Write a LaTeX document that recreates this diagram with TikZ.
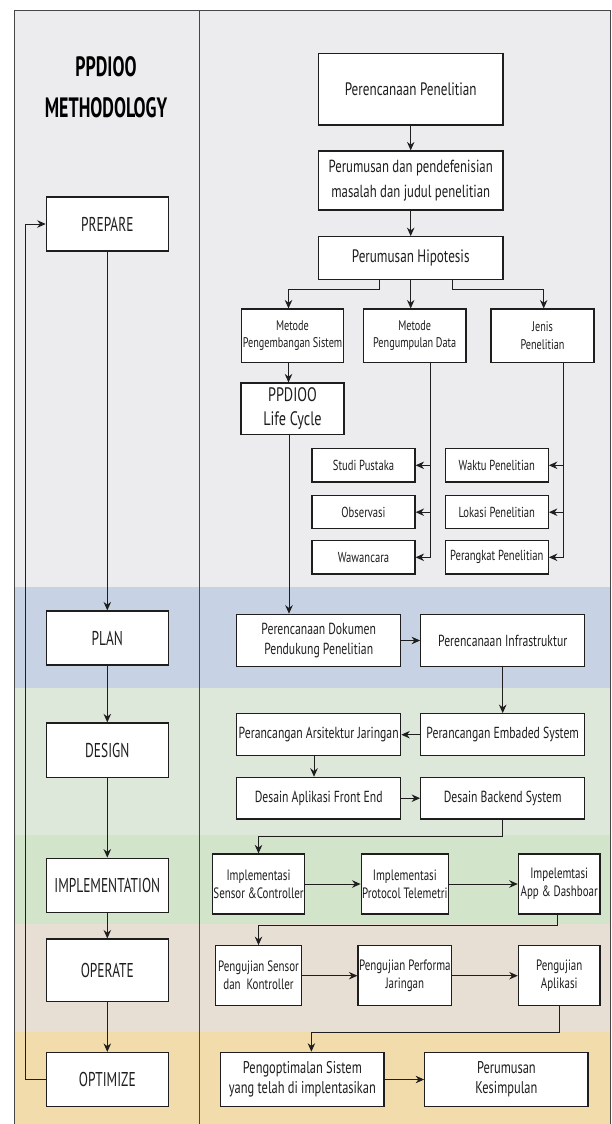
\documentclass[tikz,border=0pt]{standalone}
\usepackage{fontspec}
\setmainfont[FakeStretch=0.73]{PT Sans}
\newfontfamily\titlefont[FakeStretch=0.64]{PT Sans}
\newfontfamily\phasefont[FakeStretch=0.67]{PT Sans}
\usetikzlibrary{arrows.meta}

\definecolor{panelgray}{RGB}{236,236,238}
\definecolor{planblue}{RGB}{199,211,229}
\definecolor{designgreen}{RGB}{221,231,218}
\definecolor{implgreen}{RGB}{210,228,201}
\definecolor{operatebrown}{RGB}{232,223,212}
\definecolor{optimizeorange}{RGB}{243,220,172}
\definecolor{framegray}{RGB}{70,70,70}
\definecolor{boxline}{RGB}{30,30,30}
\definecolor{textgray}{RGB}{30,30,30}

\begin{document}
\begin{tikzpicture}[x=1pt,y=-1pt,
    box/.style={draw=boxline, line width=1.2pt, fill=white, inner sep=1pt, align=center, text=textgray},
    phase/.style={box, minimum width=122pt, minimum height=54pt, font=\phasefont\fontsize{20}{24}\selectfont},
    flow/.style={draw=boxline, line width=1pt, -{Stealth[length=8.5pt,width=7.5pt]}}]

\useasboundingbox (0,0) rectangle (612,1124);

% Grey panel and the coloured band of each phase
\fill[panelgray] (14,10.7) rectangle (610,1124);
\foreach \ya/\yb/\col in {587.3/688.3/planblue, 688.3/835.3/designgreen, 835.3/924.3/implgreen,
                          924.3/1032.3/operatebrown, 1032.3/1124/optimizeorange}
    \fill[\col] (14,\ya) rectangle (610,\yb);

% Frame and column divider
\draw[framegray, line width=0.8pt] (14,1124) -- (14,10.7) -- (610,10.7) -- (610,1124);
\draw[framegray, line width=0.8pt] (199,10.7) -- (199,1124);

% Title
\node[text=black, align=center, font=\titlefont\bfseries\fontsize{28}{41}\selectfont] (title) at (106,87) {PPDIOO\\METHODOLOGY};

% Phases of the life cycle
\node[phase] (prepare) at (107.3,224) {PREPARE};
\node[phase] (plan) at (107.3,638) {PLAN};
\node[phase, minimum height=54.7pt] (design) at (107.3,750.3) {DESIGN};
\node[phase] (implementation) at (107.3,885.2) {IMPLEMENTATION};
\node[phase, minimum height=62.3pt] (operate) at (107.3,970.2) {OPERATE};
\node[phase] (optimize) at (107.3,1079.5) {OPTIMIZE};

\draw[flow] (prepare) -- (plan);
\draw[flow] (plan) -- (design);
\draw[flow] (design) -- (implementation);
\draw[flow] (implementation) -- (operate);
\draw[flow] (operate) -- (optimize);
\draw[flow] (optimize.west) -- ++(-20.6,0) |- (prepare.west);  % back to the start

% Research preparation
\node[box, minimum width=184.7pt, minimum height=71.7pt, font=\fontsize{18}{25}\selectfont] (rencana) at (410.7,89.2) {Perencanaan Penelitian};
\node[box, minimum width=184.7pt, minimum height=59pt, font=\fontsize{17.5}{25}\selectfont] (rumusan) at (410.7,180.5) {Perumusan dan pendefenisian\\masalah dan judul penelitian};
\node[box, minimum width=184.7pt, minimum height=42.6pt, font=\fontsize{18}{25}\selectfont] (hipo) at (410.7,258) {Perumusan Hipotesis};

\draw[flow] (rencana) -- (rumusan);
\draw[flow] (rumusan) -- (hipo);

\node[box, minimum width=102.7pt, minimum height=53.3pt, font=\fontsize{14}{17.3}\selectfont] (mps) at (292.5,335.7) {Metode\\Pengembangan Sistem};
\node[box, minimum width=102.7pt, minimum height=53.3pt, font=\fontsize{14}{17.3}\selectfont] (mpd) at (414.7,335.7) {Metode\\Pengumpulan Data};
\node[box, minimum width=103pt, minimum height=53.3pt, font=\fontsize{14}{17.3}\selectfont] (jenis) at (542.5,335.7) {Jenis\\Penelitian};

\draw[flow] ([xshift=-31.4pt]hipo.south) -- ++(0,10) -| ([xshift=-4pt]mps.north);
\draw[flow] (hipo.south) -- (hipo.south |- mpd.north);
\draw[flow] ([xshift=42pt]hipo.south) -- ++(0,10) -| ([xshift=1.2pt]jenis.north);

\node[box, minimum width=103pt, minimum height=51.3pt, font=\fontsize{19.5}{24.7}\selectfont] (lifecycle) at (292.5,408.7) {PPDIOO\\Life Cycle};
\draw[flow] ([xshift=-4pt]mps.south) -- ([xshift=-4pt]lifecycle.north);

% Data collection and research type
\node[box, minimum width=103pt, minimum height=33.3pt, font=\fontsize{14.5}{17}\selectfont] (studi) at (363.5,465.3) {Studi Pustaka};
\node[box, minimum width=103pt, minimum height=33.3pt, font=\fontsize{14.5}{17}\selectfont] (observasi) at (363.5,512.2) {Observasi};
\node[box, minimum width=103pt, minimum height=33.3pt, font=\fontsize{14.5}{17}\selectfont] (wawancara) at (363.5,557.3) {Wawancara};
\node[box, minimum width=103pt, minimum height=33.3pt, font=\fontsize{14.5}{17}\selectfont] (waktu) at (496.8,465.3) {Waktu Penelitian};
\node[box, minimum width=103pt, minimum height=33.3pt, font=\fontsize{14.5}{17}\selectfont] (lokasi) at (496.8,512.2) {Lokasi Penelitian};
\node[box, minimum width=103pt, minimum height=33.3pt, font=\fontsize{14.5}{17}\selectfont] (perangkat) at (496.8,557.3) {Perangkat Penelitian};

\coordinate (datatrunk) at ([xshift=15.6pt]mpd.south);
\draw[flow] (datatrunk) |- (wawancara.east);
\draw[flow] (datatrunk |- studi.east) -- (studi.east);
\draw[flow] (datatrunk |- observasi.east) -- (observasi.east);

\coordinate (jenistrunk) at ([xshift=20.8pt]jenis.south);
\draw[flow] (jenistrunk) |- (perangkat.east);
\draw[flow] (jenistrunk |- waktu.east) -- (waktu.east);
\draw[flow] (jenistrunk |- lokasi.east) -- (lokasi.east);

% Plan
\node[box, minimum width=164pt, minimum height=52.4pt, font=\fontsize{16}{20.7}\selectfont] (dokumen) at (318.7,640.5) {Perencanaan Dokumen\\Pendukung Penelitian};
\node[box, minimum width=164pt, minimum height=52.4pt, font=\fontsize{16}{20.7}\selectfont] (infra) at (502.7,640.5) {Perencanaan Infrastruktur};

\draw[flow] ([xshift=-3.5pt]lifecycle.south) -- ([xshift=-3.5pt]lifecycle.south |- dokumen.north);
\draw[flow] (dokumen) -- (infra);

% Design
\node[box, minimum width=164pt, minimum height=42pt, font=\fontsize{16}{20}\selectfont] (embedded) at (502.7,734.7) {Perancangan Embaded System};
\node[box, minimum width=164pt, minimum height=42pt, font=\fontsize{16}{20}\selectfont] (arsitektur) at (318.7,734.7) {Perancangan Arsitektur Jaringan};
\node[box, minimum width=164pt, minimum height=41.7pt, font=\fontsize{16}{20}\selectfont] (frontend) at (318.7,798.2) {Desain Aplikasi Front End};
\node[box, minimum width=164pt, minimum height=41.7pt, font=\fontsize{16}{20}\selectfont] (backend) at (502.7,798.2) {Desain Backend System};

\draw[flow] (infra) -- (embedded);
\draw[flow] (embedded) -- (arsitektur);
\draw[flow] ([xshift=-4.7pt]arsitektur.south) -- ([xshift=-4.7pt]frontend.north);
\draw[flow] (frontend) -- (backend);

% Implementation
\node[box, minimum width=85.6pt, minimum height=60pt, font=\fontsize{15}{17.7}\selectfont] (isensor) at (258.5,884) {Implementasi\\Sensor \&Controller};
\node[box, minimum width=83pt, minimum height=60pt, font=\fontsize{15}{17.7}\selectfont] (iprotocol) at (404.8,884) {Implementasi\\Protocol Telemetri};
\node[box, minimum width=81.7pt, minimum height=60pt, font=\fontsize{15}{17.7}\selectfont] (iapp) at (559.2,884) {Impelemtasi\\App \& Dashboar};

\draw[flow] (backend.south) -- ++(0,17) -| (isensor.north);
\draw[flow] (isensor) -- (iprotocol);
\draw[flow] (iprotocol) -- (iapp);

% Operate
\node[box, minimum width=85.6pt, minimum height=60pt, font=\fontsize{15}{18}\selectfont] (usensor) at (258.5,975.7) {Pengujian Sensor\\dan\ \ Kontroller};
\node[box, minimum width=83pt, minimum height=60pt, font=\fontsize{15}{18}\selectfont] (uperforma) at (404.8,975.7) {Pengujian Performa\\Jaringan};
\node[box, minimum width=81.7pt, minimum height=60pt, font=\fontsize{15}{18}\selectfont] (uaplikasi) at (559.2,975.7) {Pengujian\\Aplikasi};

\draw[flow] ([xshift=-2pt]iapp.south) -- ++(0,11) -| (usensor.north);
\draw[flow] (usensor) -- (uperforma);
\draw[flow] (uperforma) -- (uaplikasi);

% Optimize
\node[box, minimum width=163.3pt, minimum height=54.4pt, font=\fontsize{17}{20}\selectfont] (optimasi) at (302.4,1079.5) {Pengoptimalan Sistem\\yang telah di implentasikan};
\node[box, minimum width=163.3pt, minimum height=54.4pt, font=\fontsize{17}{20}\selectfont] (kesimpulan) at (506.4,1079.5) {Perumusan\\Kesimpulan};

\draw[flow] (uaplikasi.south) -- ++(0,26) -| ([xshift=9pt]optimasi.north);
\draw[flow] (optimasi) -- (kesimpulan);

\end{tikzpicture}
\end{document}
